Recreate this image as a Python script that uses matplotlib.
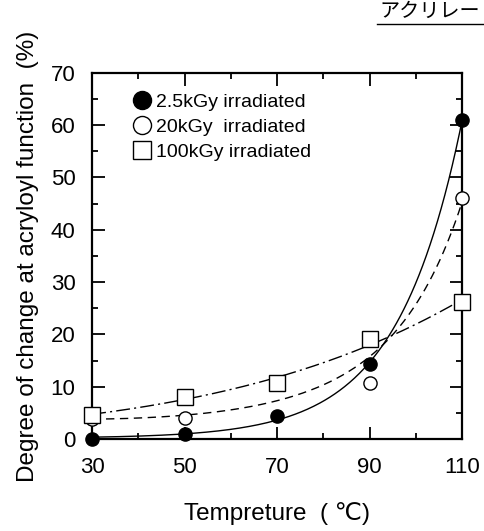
import numpy as np
import matplotlib
matplotlib.use("Agg")
import matplotlib.pyplot as plt
from matplotlib.lines import Line2D

plt.rcParams["font.family"] = ["Liberation Sans", "DejaVu Sans"]

temp = [30, 50, 70, 90, 110]
kgy_2_5 = [0.0, 0.9, 4.4, 14.4, 61.0]
kgy_20 = [3.8, 4.1, 10.6, 10.8, 46.0]   # 30 °C point sits under the square
kgy_100 = [4.7, 8.0, 10.8, 19.2, 26.2]

labels = ["2.5kGy irradiated", "20kGy  irradiated", "100kGy irradiated"]


def expfit(x, y):
    # y = a*exp(b*x) + c : scan b, least squares for a and c
    x, y = np.asarray(x, float), np.asarray(y, float)
    best = None
    for b in np.linspace(0.005, 0.15, 600):
        A = np.column_stack([np.exp(b * x), np.ones_like(x)])
        coef, *_ = np.linalg.lstsq(A, y, rcond=None)
        err = np.sum((A @ coef - y) ** 2)
        if best is None or err < best[0]:
            best = (err, b, coef)
    _, b, (a, c) = best
    return lambda t: a * np.exp(b * t) + c


def logquad(x, y, w=None):
    p = np.polyfit(x, np.log(y), 2, w=w)
    return lambda t: np.exp(np.polyval(p, t))


fig = plt.figure(figsize=(4.85, 5.31), dpi=100)
ax = fig.add_axes([0.190, 0.173, 0.763, 0.690])

xs = np.linspace(30, 110, 300)
ax.plot(xs, expfit(temp, kgy_2_5)(xs), "k-", lw=1.0)
ax.plot(xs, logquad(temp, kgy_20, w=[1, 1, 1, 1, 3])(xs), "k", lw=1.0, ls=(0, (6, 4)))
ax.plot(xs, logquad(temp, kgy_100)(xs), "k", lw=1.0, ls=(0, (10, 3, 1.5, 3)))

ax.plot(temp, kgy_2_5, "o", ms=9.5, mfc="black", mec="black", clip_on=False, zorder=5)
ax.plot(temp, kgy_20, "o", ms=9.5, mfc="white", mec="black", mew=1.0, clip_on=False, zorder=3)
ax.plot(temp, kgy_100, "s", ms=11, mfc="white", mec="black", mew=1.0, clip_on=False, zorder=4)

ax.set_xlim(30, 110)
ax.set_ylim(0, 70)
ax.set_xticks([30, 50, 70, 90, 110])
ax.set_xticks(range(40, 110, 20), minor=True)
ax.set_yticks(range(0, 71, 10))
ax.set_yticks(range(5, 70, 10), minor=True)
ax.tick_params(which="both", direction="in", top=True, right=True, width=1.3,
               labelsize=16)
ax.tick_params(which="major", length=9)
ax.tick_params(which="minor", length=4.5)
ax.tick_params(axis="x", pad=13)
ax.tick_params(axis="y", pad=12)
for s in ax.spines.values():
    s.set_linewidth(1.6)

ax.set_xlabel("Tempreture  ( \u2103)", fontsize=17.5, labelpad=17)
ax.set_ylabel("Degree of change at acryloyl function  (%)", fontsize=17.5, labelpad=8)

# legend symbols are drawn a little larger than the data markers
handles = [
    Line2D([], [], ls="none", marker="o", ms=13, mfc="black", mec="black"),
    Line2D([], [], ls="none", marker="o", ms=13, mfc="white", mec="black", mew=1.0),
    Line2D([], [], ls="none", marker="s", ms=12.5, mfc="white", mec="black", mew=1.0),
]
ax.legend(handles, labels, loc="upper left", bbox_to_anchor=(0.085, 0.975),
          frameon=False, fontsize=14, handlelength=0.7, handletextpad=0.35,
          labelspacing=0.38, borderaxespad=0.2)

fig.text(0.99, 0.958, "アクリレー", family=["Noto Sans CJK JP", "DejaVu Sans"],
         fontsize=14.5, ha="right", va="bottom")
fig.add_artist(Line2D([0.778, 1.0], [0.955, 0.955], color="black", lw=1.0,
                      transform=fig.transFigure))

fig.savefig("out.png", dpi=100)
